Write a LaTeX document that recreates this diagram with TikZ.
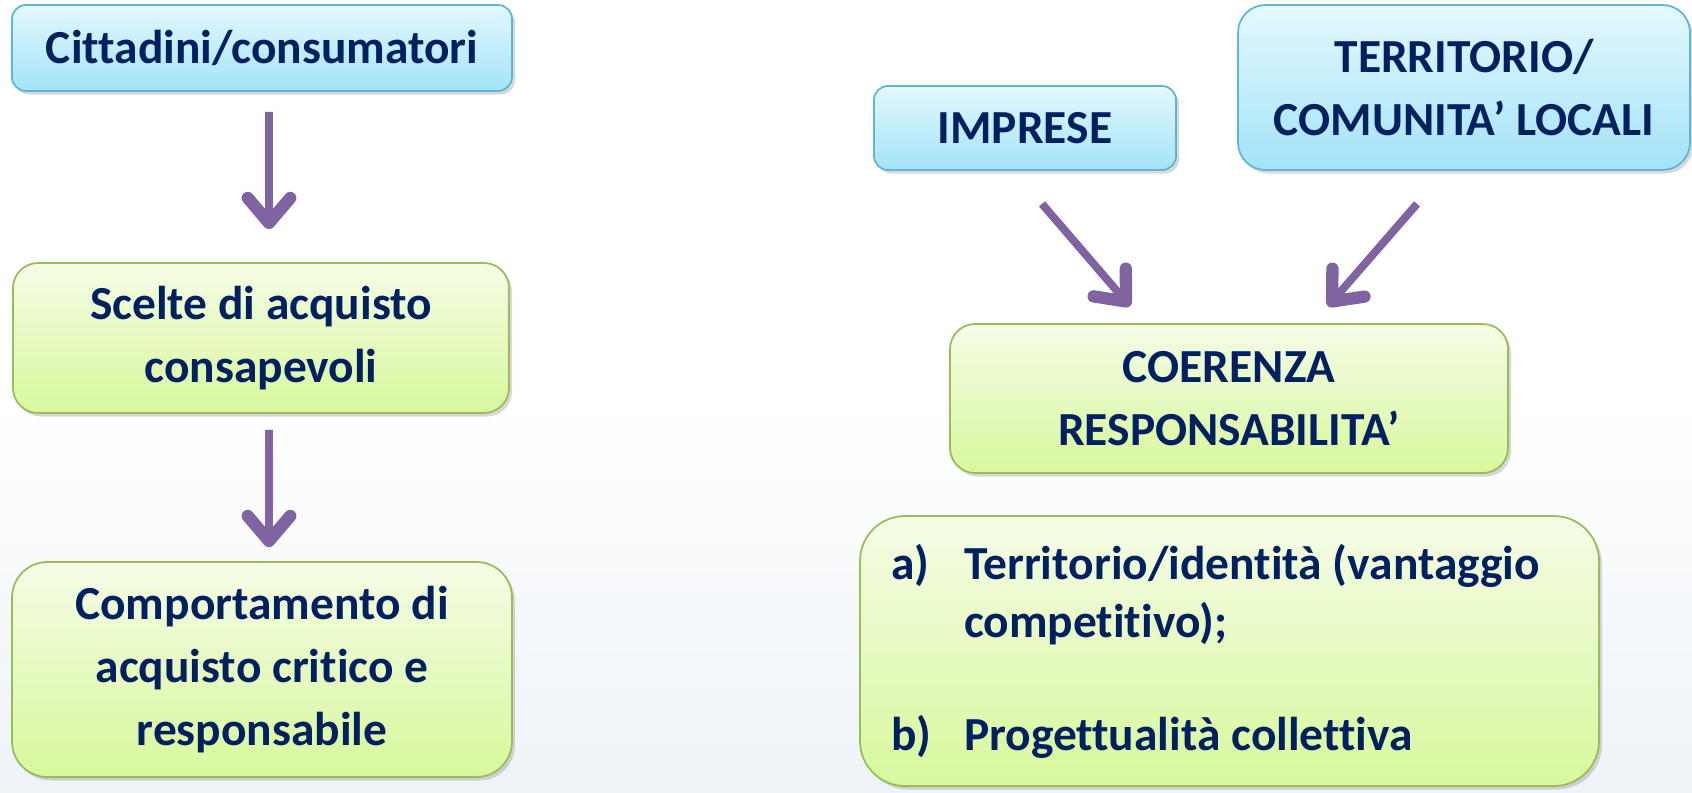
\documentclass[tikz,border=0pt]{standalone}
\usepackage{fontspec}
\setmainfont{Carlito}[Ligatures=NoCommon]
\usetikzlibrary{arrows.meta, positioning, shadows}

\definecolor{txtblue}{HTML}{002060}
\definecolor{flowpurple}{HTML}{8064A2}
\definecolor{bluetop}{HTML}{E4F8FE}
\definecolor{bluebot}{HTML}{A3E3F8}
\definecolor{blueedge}{HTML}{5FB6D2}
\definecolor{greentop}{HTML}{F5FCE6}
\definecolor{greenbot}{HTML}{D8F89C}
\definecolor{greenedge}{HTML}{9BBB59}
\definecolor{bgbot}{HTML}{EEF3F8}

\begin{document}
\begin{tikzpicture}[
    box/.style={draw, rectangle, line width=1pt, align=center, text=txtblue,
        font=\bfseries\fontsize{27}{36}\selectfont,
        drop shadow={shadow xshift=0.6mm, shadow yshift=-0.7mm, opacity=0.3}},
    bluebox/.style={box, draw=blueedge, top color=bluetop, bottom color=bluebot},
    greenbox/.style={box, draw=greenedge, top color=greentop, bottom color=greenbot},
    flow/.style={flowpurple, line width=4.5pt, -{Straight Barb[length=0.5cm, width=0.85cm, line width=7pt, round]}}]

    % background
    \fill[top color=white, bottom color=bgbot, middle color=white] (0,0) rectangle (33.84,-15.84);

    % left column
    \node[bluebox, rounded corners=0.28cm, minimum width=10cm, minimum height=1.72cm] (cit) at (5.24,-0.96) {Cittadini/consumatori};
    \node[greenbox, rounded corners=0.5cm, minimum width=9.92cm, minimum height=3cm] (sce) at (5.22,-6.76) {Scelte di acquisto\\consapevoli};
    \node[greenbox, rounded corners=0.71cm, minimum width=10cm, minimum height=4.3cm] (com) at (5.24,-13.39) {Comportamento di\\acquisto critico e\\responsabile};

    % right column
    \node[bluebox, rounded corners=0.28cm, minimum width=6.04cm, minimum height=1.68cm] (imp) at (20.5,-2.56) {IMPRESE};
    \node[bluebox, rounded corners=0.55cm, minimum width=9.04cm, minimum height=3.3cm] (ter) at (29.28,-1.75) {TERRITORIO/\\COMUNITA’ LOCALI};
    \node[greenbox, rounded corners=0.5cm, minimum width=11.16cm, minimum height=2.98cm] (coe) at (24.58,-7.97) {COERENZA\\RESPONSABILITA’};
    \node[greenbox, rounded corners=0.9cm, align=flush left, text width=13.54cm, inner xsep=0.62cm, minimum height=5.4cm,
        font=\bfseries\fontsize{27}{33}\selectfont] (lst) at (24.59,-13.02)
        {\makebox[1.46cm][l]{a)}Territorio/identità (vantaggio\\\hspace*{1.46cm}competitivo);\\[1.1cm]\makebox[1.46cm][l]{b)}Progettualità collettiva};

    \draw[flow] ([xshift=0.14cm, yshift=-0.4cm]cit.south) -- ([xshift=0.16cm, yshift=0.66cm]sce.north);
    \draw[flow] ([xshift=0.16cm, yshift=-0.32cm]sce.south) -- ([xshift=0.14cm, yshift=0.28cm]com.north);
    \draw[flow] ([xshift=0.34cm, yshift=-0.66cm]imp.south) -- ([xshift=-1.98cm, yshift=0.34cm]coe.north);
    \draw[flow] ([xshift=-0.94cm, yshift=-0.66cm]ter.south) -- ([xshift=1.98cm, yshift=0.34cm]coe.north);
\end{tikzpicture}
\end{document}
